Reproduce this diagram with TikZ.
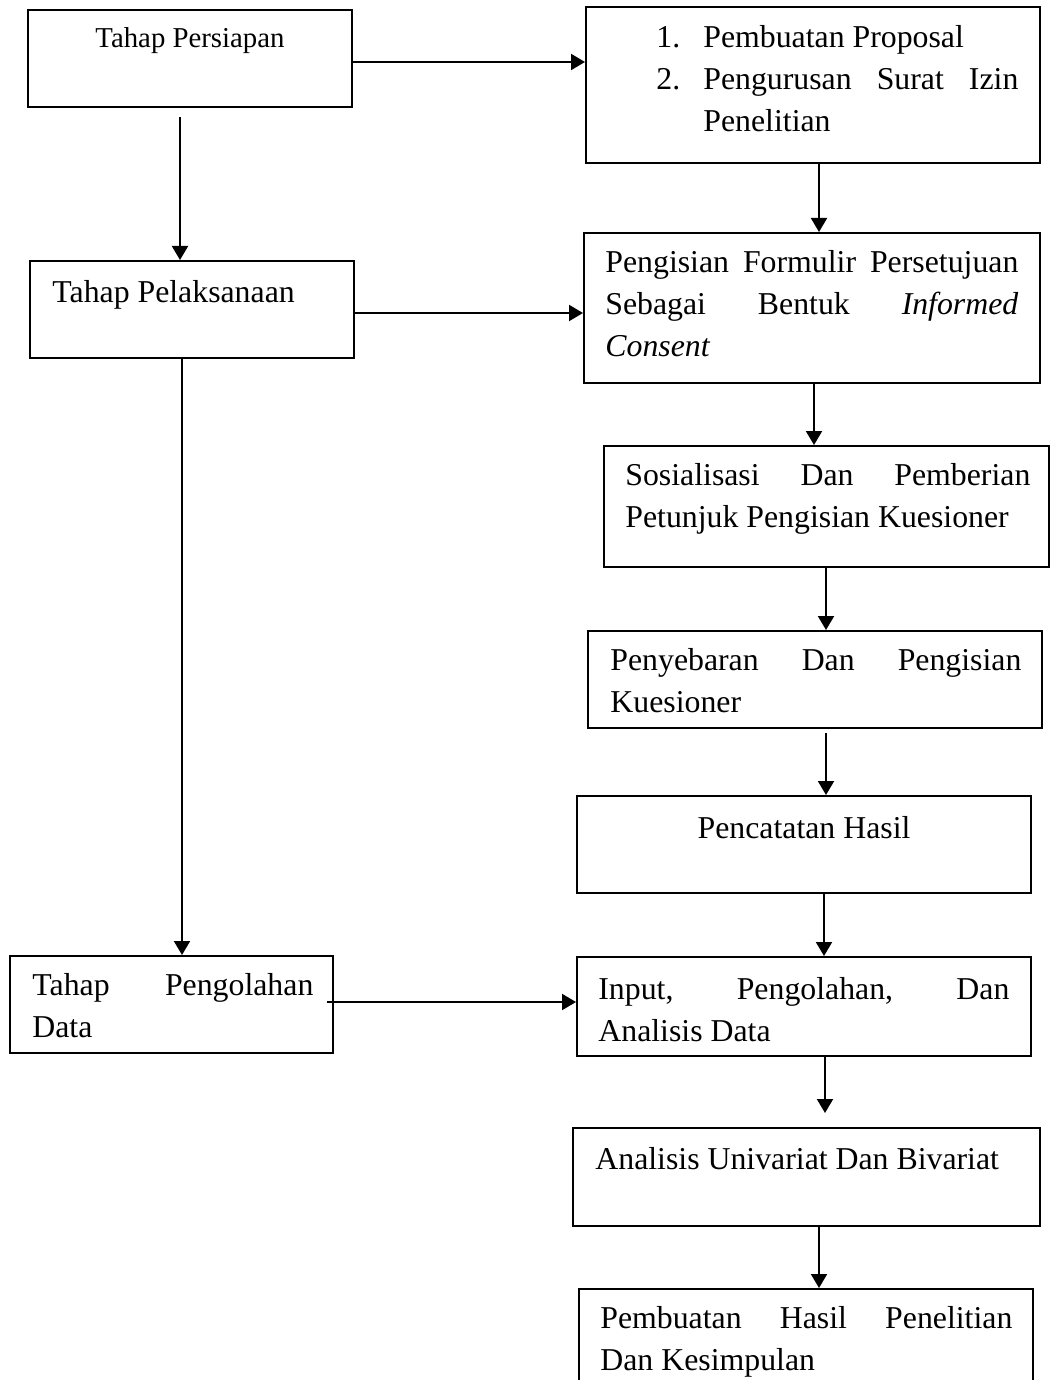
\documentclass[tikz,border=0pt]{standalone}
\usepackage{fontspec}
\setmainfont{Liberation Serif}
\usetikzlibrary{arrows.meta,fit,calc}
\newlength\pxu
\setlength\pxu{0.5pt}
\newcommand\jl[2]{\leavevmode\hbox to #1\pxu{#2}}
\begin{document}
\begin{tikzpicture}[x=0.5pt,y=-0.5pt,
  box/.style={draw, line width=1pt, inner sep=0pt},
  txt/.style={inner sep=0pt, anchor=base west, font=\fontsize{15.9pt}{21pt}\selectfont},
  arr/.style={line width=1pt, -{Triangle[length=7pt,width=8pt]}}]
\useasboundingbox (0,0) rectangle (1050,1380);
\clip (0,0) rectangle (1050,1380);
% boxes
\node[box, fit={(28,10) (352,107)}] (A) {};
\node[box, fit={(586,7) (1040,163)}] (B) {};
\node[box, fit={(30,261) (354,358)}] (C) {};
\node[box, fit={(584,233) (1040,383)}] (D) {};
\node[box, fit={(604,446) (1049,567)}] (E) {};
\node[box, fit={(588,631) (1042,728)}] (F) {};
\node[box, fit={(577,796) (1031,893)}] (G) {};
\node[box, fit={(10,956) (333,1053)}] (H) {};
\node[box, fit={(577,957) (1031,1056)}] (I) {};
\node[box, fit={(573,1128) (1040,1226)}] (J) {};
\node[box, fit={(579,1289) (1033,1400)}] (K) {};
% texts
\node[txt, anchor=base, font=\fontsize{14.4pt}{21pt}\selectfont] (tA) at (190,48) {Tahap Persiapan};
\node[txt] (tB) at (656,48) {\parbox[t]{363\pxu}{\makebox[47\pxu][l]{1.}Pembuatan Proposal\\
  \makebox[47\pxu][l]{2.}\jl{315}{Pengurusan\hfill Surat\hfill Izin}\\
  \hspace*{47\pxu}Penelitian}};
\node[txt] (tC) at (52,302) {Tahap Pelaksanaan};
\node[txt] (tD) at (605,272) {\parbox[t]{413\pxu}{\jl{413}{Pengisian\hfill Formulir\hfill Persetujuan}\\
  \jl{413}{Sebagai\hfill Bentuk\hfill \textit{Informed}}\\
  \textit{Consent}}};
\node[txt] (tE) at (625,485) {\parbox[t]{405\pxu}{\jl{405}{Sosialisasi\hfill Dan\hfill Pemberian}\\
  Petunjuk Pengisian Kuesioner}};
\node[txt] (tF) at (610,670) {\parbox[t]{411\pxu}{\jl{411}{Penyebaran\hfill Dan\hfill Pengisian}\\
  Kuesioner}};
\node[txt, anchor=base] (tG) at (804,838) {Pencatatan Hasil};
\node[txt] (tH) at (32,995) {\parbox[t]{281\pxu}{\jl{281}{Tahap\hfill Pengolahan}\\
  Data}};
\node[txt] (tI) at (598,999) {\parbox[t]{411\pxu}{\jl{411}{Input,\hfill Pengolahan,\hfill Dan}\\
  Analisis Data}};
\node[txt] (tJ) at (595,1169) {Analisis Univariat Dan Bivariat};
\node[txt] (tK) at (600,1328) {\parbox[t]{412\pxu}{\jl{412}{Pembuatan\hfill Hasil\hfill Penelitian}\\
  Dan Kesimpulan}};
% connectors
\draw[arr] (A.east |- 0,62) -- (B.west |- 0,62);
\coordinate (a1) at (180,117);
\draw[arr] (a1) -- (C.north -| a1);
\draw[arr] (B.south -| 819,0) -- (D.north -| 819,0);
\draw[arr] (C.east |- 0,313) -- (D.west |- 0,313);
\draw[arr] (C.south -| 182,0) -- (H.north -| 182,0);
\draw[arr] (D.south -| 814,0) -- (E.north -| 814,0);
\draw[arr] (E.south -| 826,0) -- (F.north -| 826,0);
\coordinate (f1) at (826,733);
\draw[arr] (f1) -- (G.north -| f1);
\draw[arr] (G.south -| 824,0) -- (I.north -| 824,0);
\coordinate (h1) at (327,1002);
\draw[arr] (h1) -- (I.west |- h1);
\coordinate (j1) at (825,1113);
\draw[arr] (I.south -| j1) -- (j1);
\draw[arr] (J.south -| 819,0) -- (K.north -| 819,0);
\end{tikzpicture}
\end{document}
